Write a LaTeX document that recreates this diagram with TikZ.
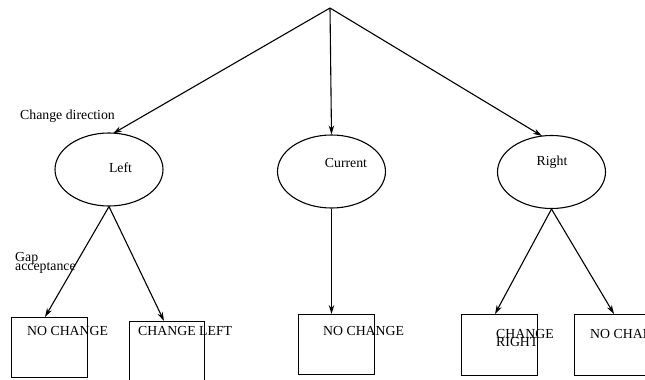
\documentclass[tikz,border=0pt]{standalone}
\usepackage{fontspec}
\setmainfont{Liberation Serif}
\usetikzlibrary{shapes.geometric,arrows.meta}
\begin{document}
\begin{tikzpicture}[x=1pt,y=-1pt,
  every node/.style={font=\fontsize{13.8}{13.8}\selectfont, inner sep=0pt},
  choice/.style={draw, ellipse, line width=1.1pt, minimum width=108pt, minimum height=73pt},
  leaf/.style={draw, rectangle, line width=1.1pt, anchor=north west},
  lbl/.style={anchor=west},
  arr/.style={line width=1.1pt, -{Stealth[length=9pt,width=5.5pt]}}]
\useasboundingbox (0,0) rectangle (645,380);
\coordinate (top) at (330,8);
\node[choice] (L) at (109,169.5) {};
\node[choice] (C) at (331.5,171.5) {};
\node[choice] (R) at (551.5,172) {};
\node (Lt) at (120.5,168) {Left};
\node (Ct) at (346,163) {Current};
\node (Rt) at (552,162) {Right};
\node[lbl] (cd) at (20,116) {Change direction};
\node[lbl] (gap) at (15,258) {Gap};
\node[lbl] (acc) at (15,268) {acceptance};
\node[leaf, minimum width=76pt, minimum height=60pt] (B1) at (11,317) {};
\node[leaf, minimum width=75pt, minimum height=62pt] (B2) at (129,321) {};
\node[leaf, minimum width=76pt, minimum height=60pt] (B3) at (298,314) {};
\node[leaf, minimum width=76pt, minimum height=61pt] (B4) at (461,314) {};
\node[leaf, minimum width=76pt, minimum height=61pt] (B5) at (574,314) {};
\node[lbl] (T1) at (27,331) {NO CHANGE};
\node[lbl] (T2) at (138,331) {CHANGE LEFT};
\node[lbl] (T3) at (323,331) {NO CHANGE};
\node[lbl] (T4a) at (496,334) {CHANGE};
\node[lbl] (T4b) at (496,342) {RIGHT};
\node[lbl] (T5) at (590,334) {NO CHANGE};
\coordinate (eL) at (113,133.5);
\coordinate (eR) at (542,136);
\coordinate (p1) at (45,317);
\coordinate (p2) at (164,321);
\coordinate (p4) at (495,314);
\coordinate (p5) at (614,314);
\draw[arr] (top) -- (eL);
\draw[arr] (top) -- (C.north);
\draw[arr] (top) -- (eR);
\draw[arr] (L.south) -- (p1);
\draw[arr] (L.south) -- (p2);
\draw[arr] (C.south) -- (C.south |- B3.north);
\draw[arr] (R.south) -- (p4);
\draw[arr] (R.south) -- (p5);
\end{tikzpicture}
\end{document}
